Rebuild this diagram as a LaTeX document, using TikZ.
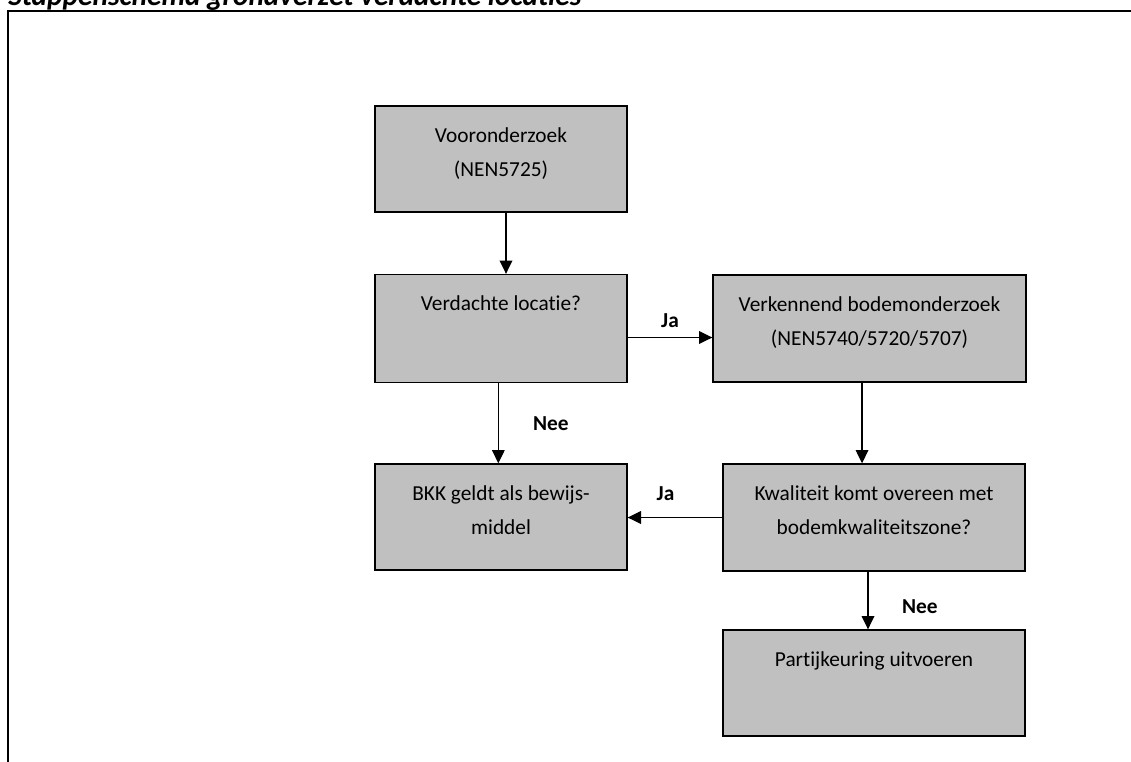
\documentclass[tikz,border=0pt]{standalone}
\usepackage{fontspec}
\setmainfont[Ligatures=NoCommon]{Carlito}
\usetikzlibrary{arrows.meta,positioning}
\definecolor{vakgrijs}{RGB}{192,192,192}
\tikzset{
	vak/.style={draw, line width=1pt, fill=vakgrijs, inner sep=0pt},
	vaktekst/.style={anchor=base, align=center, inner sep=0pt, font=\fontsize{16}{25.5}\selectfont},
	pijl/.style={line width=1pt, -{Triangle[length=10pt, width=9.5pt]}},
	antw/.style={inner sep=0pt, font=\bfseries\fontsize{16}{19}\selectfont}
}

\begin{document}
\begin{tikzpicture}[x=0.75pt, y=-0.75pt]
		\useasboundingbox (0,0) rectangle (1131,761);
		%Titel en kader
		\node [anchor=base west, inner sep=0pt, font=\bfseries\itshape\fontsize{22}{26}\selectfont] (titel) at (8,5) {Stappenschema grondverzet verdachte locaties};
		\draw [line width=1.5pt] (8,790) -- (8,11) -- (1160,11);
		%Vakken
		\node [vak, minimum width=189pt, minimum height=79.5pt] (voor) at (501,159) {};
		\node [vak, minimum width=189pt, minimum height=81pt] (verd) at (501,328.5) {};
		\node [vak, minimum width=234.75pt, minimum height=80.25pt] (verk) at (869.5,328.5) {};
		\node [vak, minimum width=189pt, minimum height=79.5pt] (bkk) at (501,517) {};
		\node [vak, minimum width=226.5pt, minimum height=80.25pt] (kwal) at (874,517.5) {};
		\node [vak, minimum width=226.5pt, minimum height=79.5pt] (part) at (874,683) {};
		%Teksten in de vakken (base = laatste regel)
		\node [vaktekst] (voor-t) at ([yshift=-53.25pt]voor.north) {Vooronderzoek\\(NEN5725)};
		\node [vaktekst] (verd-t) at ([yshift=-27.75pt]verd.north) {Verdachte locatie?};
		\node [vaktekst] (verk-t) at ([yshift=-53.25pt]verk.north) {Verkennend bodemonderzoek\\(NEN5740/5720/5707)};
		\node [vaktekst] (bkk-t) at ([yshift=-53.25pt]bkk.north) {BKK geldt als bewijs-\\middel};
		\node [vaktekst] (kwal-t) at ([yshift=-53.25pt]kwal.north) {Kwaliteit komt overeen met\\bodemkwaliteitszone?};
		\node [vaktekst] (part-t) at ([yshift=-27.75pt]part.north) {Partijkeuring uitvoeren};
		%Pijlen
		\draw [pijl] ([xshift=3.75pt]voor.south) -- ([xshift=3.75pt]verd.north);
		\draw [pijl] ([yshift=-6.75pt]verd.east) -- ([yshift=-6.75pt]verk.west) node [antw, midway, above=7pt] (ja1) {Ja};
		\draw [pijl] ([xshift=-2pt]verd.south) -- ([xshift=-2pt]bkk.north) node [antw, midway, right=25.5pt] (nee1) {Nee};
		\draw [pijl] ([xshift=-5.6pt]verk.south) -- ([xshift=-5.6pt]verk.south |- kwal.north);
		\draw [pijl] (kwal.west) -- (kwal.west -| bkk.east) node [antw, pos=0.6, above=12pt] (ja2) {Ja};
		\draw [pijl] ([xshift=-4.5pt]kwal.south) -- ([xshift=-4.5pt]part.north) node [antw, pos=0.6, right=25pt] (nee2) {Nee};
	\end{tikzpicture}
\end{document}
